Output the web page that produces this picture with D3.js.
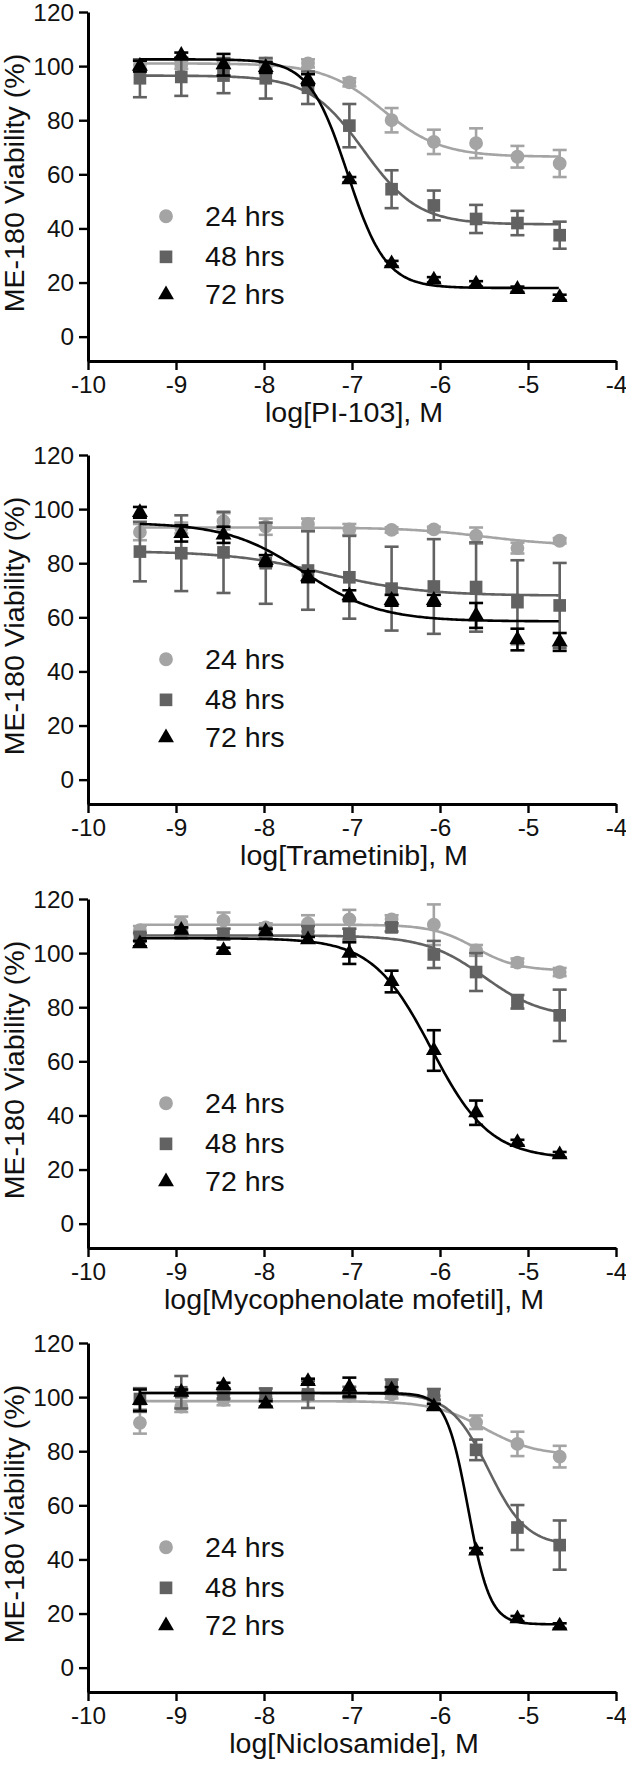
<!DOCTYPE html>
<html>
<head>
<meta charset="utf-8">
<script src="https://d3js.org/d3.v7.min.js"></script>
<style>
  body { margin: 0; background: #fff; }
  text { font-family: "Liberation Sans", Arial, sans-serif; fill: #111; }
</style>
</head>
<body>
<div class="vis"></div>
<script>
  // log molar concentrations (3-fold dilution series)
  var logConc = [-9.41, -8.94, -8.46, -7.98, -7.50, -7.03, -6.55, -6.07, -5.59, -5.12, -4.64];
  var drugs = ["PI-103", "Trametinib", "Mycophenolate mofetil", "Niclosamide"];
  var timepoints = ["24 hrs", "48 hrs", "72 hrs"];
  var xTicks = [-10, -9, -8, -7, -6, -5, -4];
  var yTicks = [0, 20, 40, 60, 80, 100, 120];

  // mean viability (%) per timepoint: [24h, 48h, 72h]
  var pi103Mean = [
    [100.5, 100.5, 100.5, 101, 101, 94, 80, 72, 71.5, 66.5, 64],
    [95.5, 96, 96.5, 95.5, 92, 78, 54.5, 48.5, 43.5, 42, 37.5],
    [100, 104, 100.5, 99.5, 95, 58, 27, 21, 19.5, 17.5, 14.5]
  ];
  var pi103Sd = [
    [1.5, 1.5, 1.5, 1.5, 1.5, 1.5, 4.5, 4.5, 5.5, 4, 5],
    [7, 7, 6.5, 7.5, 6, 8, 7, 5.5, 5.2, 4.5, 5],
    [2, 1, 4, 2, 2, 1, 1, 1, 1, 1, 1]
  ];
  var trametinibMean = [
    [91.5, 93, 95.5, 93.5, 94.5, 92.5, 92.3, 92.5, 90.2, 85.6, 88.3],
    [84.3, 83.7, 84, 80, 77.3, 74.8, 70.6, 71.4, 71.2, 65.6, 64.4],
    [98.8, 91, 90.5, 81, 75, 68, 66.3, 66.3, 60.7, 51.8, 50.9]
  ];
  var trametinibSd = [
    [3, 2, 3, 3, 2, 2, 1, 1, 3, 2, 1],
    [11, 14, 15, 15, 14.5, 15.3, 15.5, 17.5, 16.5, 15.5, 15.7],
    [2, 3, 3, 2, 2, 2, 2, 2, 4.6, 4, 3.3]
  ];
  var mmfMean = [
    [108.5, 111, 112, 109.5, 111, 112.5, 112.5, 110.5, 101, 96.5, 93],
    [106, 107.5, 107, 107.5, 108, 107, 109.5, 99.5, 93, 82, 77],
    [103.5, 108.5, 101, 108, 105, 100, 89.5, 64, 41, 30, 25.5]
  ];
  var mmfSd = [
    [1.5, 2.5, 3, 1.5, 3, 3.5, 1.5, 7.5, 2, 1.5, 1.5],
    [1.5, 2, 2, 1.5, 2, 2, 1.5, 5, 7, 2.5, 9.5],
    [1, 1, 1, 1, 1, 4, 4, 7.5, 4.5, 1, 1]
  ];
  var niclosamideMean = [
    [90.5, 96.5, 99, 100, 100.5, 100.5, 101, 99, 90.7, 82.7, 78],
    [99.3, 101.8, 101, 101.2, 101, 101.8, 104, 101, 80.5, 51.8, 45.3],
    [98.8, 101.8, 104.3, 97.5, 105.8, 103.7, 102.7, 96.5, 43.2, 18.1, 15.4]
  ];
  var niclosamideSd = [
    [4, 2, 2, 1.5, 1.5, 1.5, 1.5, 1.5, 2.5, 4.5, 4],
    [4, 6, 1.5, 2, 5, 2, 2.5, 2, 3.8, 8.3, 9.1],
    [4, 1, 1, 1, 1, 3.5, 1, 1, 1, 1, 1]
  ];

  // 4-parameter fits: [top, bottom, logIC50, hill]
  var pi103Fit = [[101, 66.5, -6.65, 1.3], [96.5, 41.5, -6.87, 1.4], [102.5, 18, -7.05, 2]];
  var trametinibFit = [[93.2, 86.5, -5.5, 1], [84.5, 68, -7.3, 0.8], [95, 58.5, -7.55, 1]];
  var mmfFit = [[110.5, 93.5, -5.6, 1.8], [106.5, 76, -5.5, 1.3], [105.5, 24, -6.1, 1.3]];
  var niclosamideFit = [[98.5, 78.5, -5.5, 1.5], [101.5, 45, -5.45, 2], [101.5, 16, -5.68, 3.5]];

  var panels = [
    { drug: drugs[0], mean: pi103Mean, sd: pi103Sd, fit: pi103Fit },
    { drug: drugs[1], mean: trametinibMean, sd: trametinibSd, fit: trametinibFit },
    { drug: drugs[2], mean: mmfMean, sd: mmfSd, fit: mmfFit },
    { drug: drugs[3], mean: niclosamideMean, sd: niclosamideSd, fit: niclosamideFit }
  ];

  var width = 626, height = 1774;
  var panelTops = [12, 455, 899, 1343];
  var plotH = 349;
  var colors = ["#a4a4a4", "#626262", "#000000"];
  var stretch = 1.06; // the source font runs a touch wide

  var svg = d3.select('.vis').append("svg")
    .attr("width", width)
    .attr("height", height)
    .attr("viewBox", [0, 0, width, height]);

  svg.append("rect").attr("width", width).attr("height", height).attr("fill", "white");

  var x = d3.scaleLinear().domain([-10, -4]).range([88, 616]);

  function fourPL(p, v) {
    return p[1] + (p[0] - p[1]) / (1 + Math.pow(10, p[3] * (v - p[2])));
  }

  var symCircle = d3.symbol().type(d3.symbolCircle).size(150);
  var symSquare = d3.symbol().type(d3.symbolSquare).size(160);
  var symTriangle = d3.symbol().type(d3.symbolTriangle).size(110);
  var symbols = [symCircle, symSquare, symTriangle];

  panels.forEach(function (p, pi) {
    var top = panelTops[pi];
    var g = svg.append("g").attr("transform", "translate(0," + top + ")");
    var y = d3.scaleLinear().domain([-9, 120]).range([plotH, 0]);

    // curves, error bars, markers, 24h first so 72h sits on top
    p.mean.forEach(function (series, si) {
      var col = colors[si];
      var sg = g.append("g");

      var curveX = d3.range(logConc[0], logConc[logConc.length - 1] + 0.001, 0.02);
      var line = d3.line()
        .x(function (d) { return x(d); })
        .y(function (d) { return y(fourPL(p.fit[si], d)); });
      sg.append("path")
        .datum(curveX)
        .attr("d", line)
        .attr("fill", "none")
        .attr("stroke", col)
        .attr("stroke-width", 2.6);

      var pts = series.map(function (m, i) { return { x: logConc[i], m: m, sd: p.sd[si][i] }; });

      var eb = sg.selectAll(".eb").data(pts).enter().append("g")
        .attr("stroke", col).attr("stroke-width", 2.6);
      eb.append("line")
        .attr("x1", function (d) { return x(d.x); })
        .attr("x2", function (d) { return x(d.x); })
        .attr("y1", function (d) { return y(d.m - d.sd); })
        .attr("y2", function (d) { return y(d.m + d.sd); });
      eb.append("line")
        .attr("x1", function (d) { return x(d.x) - 7; })
        .attr("x2", function (d) { return x(d.x) + 7; })
        .attr("y1", function (d) { return y(d.m + d.sd); })
        .attr("y2", function (d) { return y(d.m + d.sd); });
      eb.append("line")
        .attr("x1", function (d) { return x(d.x) - 7; })
        .attr("x2", function (d) { return x(d.x) + 7; })
        .attr("y1", function (d) { return y(d.m - d.sd); })
        .attr("y2", function (d) { return y(d.m - d.sd); });

      sg.selectAll(".pt").data(pts).enter().append("path")
        .attr("d", symbols[si])
        .attr("transform", function (d) { return "translate(" + x(d.x) + "," + y(d.m) + ")"; })
        .attr("fill", col);
    });

    // axes
    var yAxis = g.append("g")
      .attr("transform", "translate(" + x(-10) + ",0)")
      .call(d3.axisLeft(y).tickValues(yTicks).tickSize(9).tickSizeOuter(0));
    yAxis.select(".domain").attr("stroke-width", 3).attr("stroke", "#000");
    yAxis.selectAll(".tick line").attr("stroke-width", 2.4).attr("stroke", "#000");
    yAxis.selectAll(".tick text")
      .attr("x", null).attr("dy", null)
      .attr("transform", "translate(-14,8) scale(" + stretch + ",1)")
      .style("font-size", "23px").attr("fill", "#111");

    var xAxis = g.append("g")
      .attr("transform", "translate(0," + plotH + ")")
      .call(d3.axisBottom(x).tickValues(xTicks).tickSize(9).tickSizeOuter(0)
        .tickFormat(function (d) { return String(d); }));
    xAxis.select(".domain").attr("stroke-width", 3).attr("stroke", "#000");
    xAxis.selectAll(".tick line").attr("stroke-width", 2.4).attr("stroke", "#000");
    xAxis.selectAll(".tick text")
      .attr("y", null).attr("dy", null)
      .attr("transform", "translate(0,32) scale(" + stretch + ",1)")
      .style("font-size", "23px").attr("fill", "#111");

    // axis titles
    g.append("text")
      .attr("transform", "translate(" + (x(-7) + 2) + "," + (plotH + 61) + ") scale(" + stretch + ",1)")
      .attr("text-anchor", "middle")
      .style("font-size", "27px")
      .text("log[" + p.drug + "], M");

    g.append("text")
      .attr("transform", "translate(24,171) rotate(-90) scale(" + stretch + ",1)")
      .attr("text-anchor", "middle")
      .style("font-size", "27px")
      .text("ME-180 Viability (%)");

    // legend
    var legendRows = [44.5, 29.5, 15.5];
    timepoints.forEach(function (t, si) {
      var ly = y(legendRows[si]);
      g.append("path")
        .attr("d", symbols[si])
        .attr("transform", "translate(166," + ly + ")")
        .attr("fill", colors[si]);
      g.append("text")
        .attr("transform", "translate(205," + (ly + 9.5) + ") scale(" + stretch + ",1)")
        .style("font-size", "27px")
        .text(t);
    });
  });
</script>
</body>
</html>
